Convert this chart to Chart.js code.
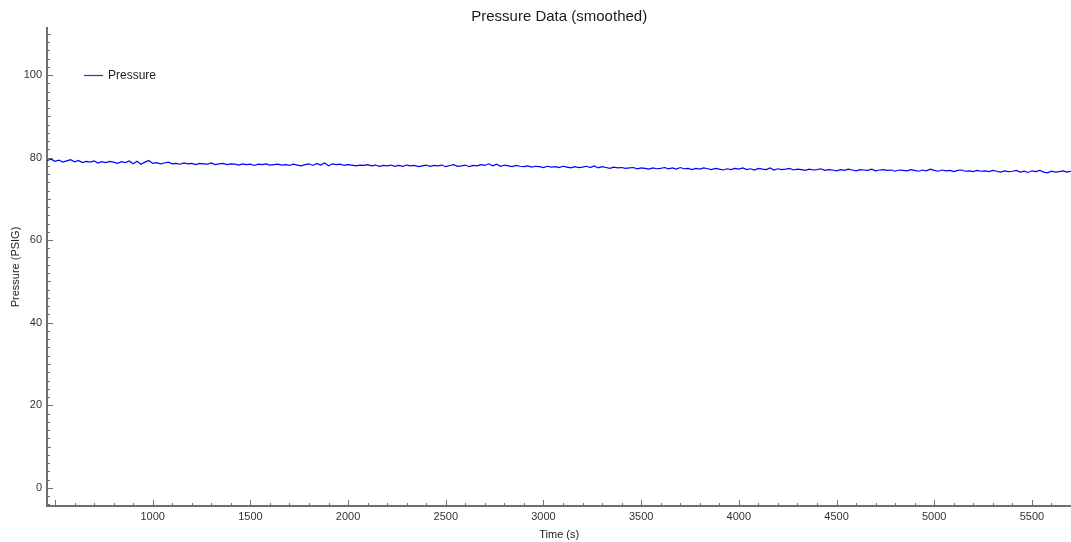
<!DOCTYPE html>
<html>
<head>
<meta charset="utf-8">
<title>Pressure Data (smoothed)</title>
<script src="https://cdn.jsdelivr.net/npm/chart.js@4.4.1/dist/chart.umd.min.js"></script>
<style>
    html, body { margin: 0; padding: 0; background: #fff; overflow: hidden; }
    #wrap { width: 1075px; height: 542px; }
</style>
</head>
<body>
<div id="wrap"><canvas id="pressure"></canvas></div>
<script>
// sampling grid (s)
const startTime = 460;
const sampleStep = 20;

// smoothed pressure readings (PSIG), one every 20 s
const pressure = [
    79.3, 79.6, 79.1, 79.4, 78.9, 79.2, 79.5, 79.0, 79.3, 78.8,
    79.1, 78.9, 79.2, 78.7, 79.0, 78.8, 79.1, 78.9, 78.6, 79.0,
    78.8, 79.2, 78.5, 79.1, 78.4, 78.9, 79.3, 78.6, 78.8, 78.5,
    78.7, 78.9, 78.5, 78.6, 78.4, 78.7, 78.5, 78.6, 78.3, 78.6,
    78.5, 78.4, 78.7, 78.3, 78.5, 78.6, 78.3, 78.5, 78.4, 78.2,
    78.5, 78.3, 78.4, 78.1, 78.4, 78.3, 78.5, 78.2, 78.3, 78.4,
    78.2, 78.3, 78.1, 78.4, 78.2, 78.0, 78.3, 78.5, 78.1, 78.6,
    78.2, 78.7, 78.0, 78.5, 78.3, 78.4, 78.1, 78.3, 78.2, 78.0,
    78.2, 78.1, 78.3, 78.0, 78.2, 77.9, 78.1, 78.0, 78.2, 77.9,
    78.1, 77.9, 78.2, 78.0, 78.1, 77.8, 78.0, 78.2, 77.9, 78.1,
    78.0, 78.2, 77.8, 78.1, 78.3, 77.9, 78.0, 78.2, 77.8, 78.1,
    78.0, 78.3, 78.1, 78.5, 78.0, 78.4, 77.9, 78.2, 78.0, 77.8,
    78.1, 77.9, 77.8, 78.0, 77.7, 77.9, 77.8, 77.6, 77.9, 77.7,
    77.8, 77.6, 77.9, 77.7, 77.5, 77.8, 77.6, 77.7, 77.9, 77.6,
    78.0, 77.5, 77.8, 77.6, 77.4, 77.7, 77.5, 77.6, 77.4, 77.5,
    77.6, 77.3, 77.5, 77.4, 77.2, 77.5, 77.3, 77.4, 77.6, 77.3,
    77.5, 77.2, 77.6, 77.3, 77.4, 77.1, 77.4, 77.2, 77.5, 77.3,
    77.1, 77.4, 77.2, 77.0, 77.3, 77.1, 77.4, 77.2, 77.5, 77.1,
    77.3, 77.0, 77.4, 77.2, 77.1, 77.5, 77.0, 77.3, 77.1, 77.2,
    77.4, 77.0, 77.2, 77.1, 76.9, 77.2, 77.0, 77.1, 77.3, 76.9,
    77.1, 77.0, 76.8, 77.1, 76.9, 77.2, 77.0, 76.8, 77.1, 77.0,
    76.9, 77.2, 76.8, 77.0, 77.1, 76.9, 77.0, 76.7, 77.0, 76.9,
    76.8, 77.1, 76.9, 76.7, 77.0, 76.8, 77.2, 76.9, 76.7, 77.0,
    76.8, 76.9, 76.6, 76.9, 77.0, 76.7, 76.8, 76.6, 76.9, 76.7,
    76.8, 76.6, 76.9, 76.7, 76.5, 76.8, 76.6, 76.7, 76.9, 76.5,
    76.7, 76.4, 76.8, 76.6, 76.9, 76.5, 76.3, 76.7, 76.5, 76.6,
    76.8, 76.5, 76.7
];

// axis ranges and tick spacing
const xRange = [459, 5702];
const yRange = [-4.4, 111.4];
const xMinorStep = 100, xMajorStep = 500;
const yMinorStep = 2, yMidStep = 10, yMajorStep = 20;

const points = pressure.map((v, i) => ({ x: startTime + i * sampleStep, y: v }));

const lineColor = 'rgb(0,0,255)';
const axisColor = '#6f6f6f';
const labelColor = '#333';
const fontFamily = "'Liberation Sans', Arial, sans-serif";

// pyqtgraph-style ticks: short marks pointing into the plot
const innerTicks = {
    id: 'innerTicks',
    afterDraw(chart) {
        const ctx = chart.ctx;
        const x = chart.scales.x, y = chart.scales.y;
        const area = chart.chartArea;
        ctx.save();
        ctx.strokeStyle = axisColor;
        ctx.lineWidth = 1;
        ctx.beginPath();
        x.ticks.forEach(t => {
            const px = Math.round(x.getPixelForValue(t.value)) + 0.5;
            const len = t.value % xMajorStep === 0 ? 6 : 3;
            ctx.moveTo(px, area.bottom);
            ctx.lineTo(px, area.bottom - len);
        });
        y.ticks.forEach(t => {
            const py = Math.round(y.getPixelForValue(t.value)) + 0.5;
            let len = 3;
            if (t.value % yMajorStep === 0) len = 6;
            else if (t.value % yMidStep === 0) len = 4;
            ctx.moveTo(area.left, py);
            ctx.lineTo(area.left + len, py);
        });
        ctx.stroke();
        ctx.restore();
    }
};

// legend inside the plot, top left
const insideLegend = {
    id: 'insideLegend',
    afterDatasetsDraw(chart) {
        const ctx = chart.ctx;
        const area = chart.chartArea;
        const ds = chart.data.datasets[0];
        const lx = area.left + 37, ly = area.top + 47;
        ctx.save();
        ctx.strokeStyle = 'rgb(40,40,255)';
        ctx.lineWidth = 1.2;
        ctx.beginPath();
        ctx.moveTo(lx, ly + 0.5);
        ctx.lineTo(lx + 19, ly + 0.5);
        ctx.stroke();
        ctx.fillStyle = '#222';
        ctx.font = '12px ' + fontFamily;
        ctx.textBaseline = 'middle';
        ctx.fillText(ds.label, lx + 24, ly + 1);
        ctx.restore();
    }
};

new Chart(
    document.getElementById('pressure'),
    {
        type: 'line',
        data: {
            datasets: [
                {
                    label: 'Pressure',
                    data: points,
                    borderColor: lineColor,
                    borderWidth: 1.2,
                    pointRadius: 0,
                    tension: 0,
                    fill: false
                }
            ]
        },
        options: {
            responsive: true,
            maintainAspectRatio: false,
            animation: false,
            layout: {
                padding: 0
            },
            plugins: {
                legend: { display: false },
                tooltip: { enabled: false },
                title: {
                    display: true,
                    fullSize: false,
                    text: 'Pressure Data (smoothed)',
                    color: '#1a1a1a',
                    font: { family: fontFamily, size: 15, weight: 'normal' },
                    padding: { top: 8, bottom: 2 }
                }
            },
            scales: {
                x: {
                    type: 'linear',
                    min: xRange[0],
                    max: xRange[1],
                    grid: { display: false, drawTicks: false },
                    border: { display: true, color: axisColor, width: 2 },
                    ticks: {
                        stepSize: xMinorStep,
                        includeBounds: false,
                        autoSkip: false,
                        maxRotation: 0,
                        padding: 4,
                        color: labelColor,
                        font: { family: fontFamily, size: 11 },
                        callback: v => (v % xMajorStep === 0 && v >= 1000) ? String(v) : ''
                    },
                    title: {
                        display: true,
                        text: 'Time (s)',
                        color: '#222',
                        font: { family: fontFamily, size: 11 },
                        padding: { top: 0, bottom: 0 }
                    },
                    afterFit: scale => { scale.height = 36; }
                },
                y: {
                    type: 'linear',
                    min: yRange[0],
                    max: yRange[1],
                    grid: { display: false, drawTicks: false },
                    border: { display: true, color: axisColor, width: 2 },
                    ticks: {
                        stepSize: yMinorStep,
                        includeBounds: false,
                        autoSkip: false,
                        padding: 5,
                        color: labelColor,
                        font: { family: fontFamily, size: 11 },
                        callback: v => (v % yMajorStep === 0) ? String(v) : ''
                    },
                    title: {
                        display: true,
                        text: 'Pressure (PSIG)',
                        color: '#222',
                        font: { family: fontFamily, size: 11 },
                        padding: { top: 9, bottom: 0 }
                    },
                    afterFit: scale => { scale.width = 47; }
                }
            }
        },
        plugins: [innerTicks, insideLegend]
    }
);
</script>
</body>
</html>
